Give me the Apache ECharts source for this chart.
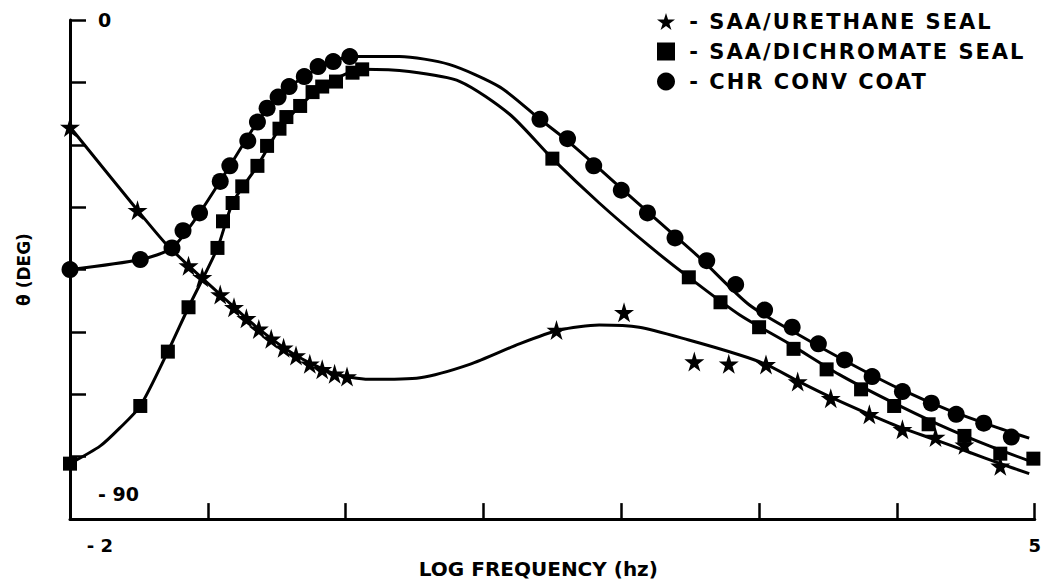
<!DOCTYPE html>
<html>
<head>
<meta charset="utf-8">
<script src="https://cdn.jsdelivr.net/npm/echarts@6/dist/echarts.min.js"></script>
<style>html,body{margin:0;padding:0;background:#fff}#c{width:1044px;height:584px}</style>
</head>
<body>
<div id="c"></div>
<script>
// Series names
const seriesNames = ['SAA/URETHANE SEAL', 'SAA/DICHROMATE SEAL', 'CHR CONV COAT'];
// Axis tick labels
const xTickLabels = {'-2': '- 2', '5': '5'};
const yTickLabels = {'0': '0', '-90': '- 90'};

// Measured points [log f, theta deg]
const urethanePts = [[-2.00,-19.3],[-1.51,-34.3],[-1.14,-44.3],[-1.04,-46.4],[-0.91,-49.5],[-0.81,-51.8],[-0.72,-53.8],[-0.63,-55.7],[-0.54,-57.5],[-0.45,-59.1],[-0.36,-60.5],[-0.26,-62.0],[-0.17,-63.0],[-0.08,-63.8],[0.01,-64.3],[1.53,-55.9],[2.02,-52.7],[2.53,-61.6],[2.78,-62.0],[3.05,-62.1],[3.28,-65.2],[3.52,-68.2],[3.80,-71.1],[4.04,-73.8],[4.28,-75.2],[4.49,-76.6],[4.75,-80.4]];
const dichromatePts = [[-2.00,-80.0],[-1.49,-69.6],[-1.29,-59.8],[-1.14,-51.8],[-0.93,-41.1],[-0.89,-36.3],[-0.82,-33.0],[-0.75,-30.0],[-0.64,-26.3],[-0.57,-22.7],[-0.48,-19.6],[-0.43,-17.5],[-0.33,-15.5],[-0.24,-13.0],[-0.17,-12.0],[-0.07,-11.1],[0.05,-9.5],[0.12,-8.9],[1.50,-25.0],[2.49,-46.4],[2.72,-50.9],[3.00,-55.4],[3.25,-59.3],[3.49,-63.0],[3.74,-66.6],[3.98,-69.6],[4.23,-72.9],[4.49,-75.0],[4.75,-78.2],[4.99,-79.1]];
const chrPts = [[-2.00,-45.0],[-1.49,-43.2],[-1.26,-41.1],[-1.18,-38.0],[-1.06,-34.8],[-0.91,-29.1],[-0.84,-26.3],[-0.71,-21.8],[-0.64,-18.4],[-0.57,-15.9],[-0.49,-13.9],[-0.41,-12.0],[-0.30,-10.2],[-0.20,-8.4],[-0.09,-7.5],[0.03,-6.6],[1.41,-17.9],[1.61,-21.4],[1.80,-26.3],[2.00,-30.7],[2.19,-34.8],[2.39,-39.3],[2.62,-43.4],[2.83,-47.7],[3.04,-52.3],[3.24,-55.4],[3.43,-58.4],[3.62,-61.3],[3.82,-64.3],[4.04,-67.0],[4.25,-69.1],[4.43,-71.1],[4.63,-72.7],[4.83,-75.2]];

// Drawn curves
const urethaneCurve = [[-2.00,-19.3],[-1.51,-34.3],[-1.31,-40.2],[-1.14,-44.3],[-0.91,-49.5],[-0.63,-55.7],[-0.36,-60.5],[-0.08,-63.8],[0.17,-64.8],[0.54,-64.5],[0.90,-62.1],[1.26,-58.4],[1.55,-55.9],[1.84,-55.0],[2.13,-55.4],[2.49,-57.7],[2.86,-60.4],[3.05,-62.1],[3.29,-65.2],[3.52,-68.0],[3.80,-71.1],[4.04,-73.6],[4.28,-75.7],[4.52,-77.9],[4.75,-80.0],[4.96,-81.8]];
const dichromateCurve = [[-2.00,-80.0],[-1.78,-76.8],[-1.64,-73.6],[-1.49,-69.6],[-1.29,-59.8],[-1.14,-51.8],[-0.93,-41.1],[-0.82,-33.0],[-0.64,-26.3],[-0.48,-19.6],[-0.33,-15.5],[-0.17,-12.0],[0.12,-8.9],[0.46,-9.3],[0.83,-11.1],[1.19,-17.0],[1.50,-25.0],[1.84,-33.0],[2.20,-40.7],[2.49,-46.4],[2.86,-53.2],[3.22,-58.4],[3.58,-63.9],[3.94,-68.6],[4.30,-72.9],[4.67,-76.8],[4.96,-79.5]];
const chrCurve = [[-2.00,-45.0],[-1.49,-43.2],[-1.26,-41.1],[-1.06,-34.8],[-0.84,-26.3],[-0.64,-18.4],[-0.49,-13.9],[-0.30,-10.2],[-0.09,-7.5],[0.03,-6.6],[0.39,-6.6],[0.75,-8.0],[1.12,-12.1],[1.41,-17.9],[1.61,-21.8],[1.84,-26.8],[2.20,-34.8],[2.57,-42.9],[2.93,-51.4],[3.29,-56.8],[3.65,-61.8],[4.01,-66.4],[4.38,-70.4],[4.74,-73.6],[4.96,-75.4]];

const starPath = 'path://M50,0 L61,35 L98,35 L68,57 L79,91 L50,70 L21,91 L32,57 L2,35 L39,35 Z';
const FONT = 'DejaVu Sans';

const chart = echarts.init(document.getElementById('c'), null, {renderer: 'svg'});
function near(v, t) { return Math.abs(v - t) < 1e-6; }
const lineStyle = {color: '#000', width: 3};
chart.setOption({
  animation: false,
  backgroundColor: '#fff',
  grid: {left: 70, right: 8, top: 20, bottom: 58, containLabel: false},
  legend: {
    data: seriesNames.map(n => ({name: n, itemStyle: {color: '#000'}})),
    orient: 'vertical',
    left: 652, top: 6,
    itemWidth: 18, itemHeight: 18, itemGap: 9,
    formatter: n => ' - ' + n,
    textStyle: {fontFamily: FONT, fontWeight: 'bold', fontSize: 21, color: '#000'}
  },
  xAxis: {
    type: 'value', min: -2, max: 5, interval: 1,
    name: 'LOG FREQUENCY (hz)', nameLocation: 'middle', nameGap: 38,
    nameTextStyle: {fontFamily: FONT, fontWeight: 'bold', fontSize: 20, color: '#000', padding: [0, 28, 0, 0]},
    axisLine: {onZero: false, lineStyle: {color: '#000', width: 3}},
    axisTick: {inside: true, length: 16, lineStyle: {color: '#000', width: 2.5}},
    splitLine: {show: false},
    axisLabel: {
      margin: 17, color: '#000', fontFamily: FONT, fontWeight: 'bold', fontSize: 18,
      formatter: v => { for (const k in xTickLabels) { if (near(v, +k)) return +k < 0 ? '{l|' + xTickLabels[k] + '}' : xTickLabels[k]; } return ''; },
      rich: {l: {fontFamily: FONT, fontWeight: 'bold', fontSize: 18, color: '#000', padding: [0, 0, 0, 60]}}
    }
  },
  yAxis: {
    type: 'value', min: -90, max: 0, interval: 11.25,
    name: 'θ (DEG)', nameLocation: 'middle', nameGap: 38, nameRotate: 90,
    nameTextStyle: {fontFamily: FONT, fontWeight: 'bold', fontSize: 17, color: '#000'},
    axisLine: {onZero: false, lineStyle: {color: '#000', width: 3}},
    axisTick: {inside: true, length: 16, lineStyle: {color: '#000', width: 2.5}},
    splitLine: {show: false},
    axisLabel: {
      inside: true, margin: 28, color: '#000', fontFamily: FONT, fontWeight: 'bold', fontSize: 19,
      formatter: v => { for (const k in yTickLabels) { if (near(v, +k)) return +k < 0 ? '{b|' + yTickLabels[k] + '}' : yTickLabels[k]; } return ''; },
      rich: {b: {fontFamily: FONT, fontWeight: 'bold', fontSize: 19, color: '#000', padding: [0, 0, 50, 0]}}
    }
  },
  series: [
    {type: 'line', data: urethaneCurve, smooth: 0.25, showSymbol: false, symbol: 'none', lineStyle: lineStyle, silent: true, z: 1},
    {type: 'line', data: dichromateCurve, smooth: 0.25, showSymbol: false, symbol: 'none', lineStyle: lineStyle, silent: true, z: 1},
    {type: 'line', data: chrCurve, smooth: 0.25, showSymbol: false, symbol: 'none', lineStyle: lineStyle, silent: true, z: 1},
    {name: seriesNames[0], type: 'scatter', data: urethanePts, symbol: starPath, symbolSize: 20, itemStyle: {color: '#000', opacity: 1}, z: 3},
    {name: seriesNames[1], type: 'scatter', data: dichromatePts, symbol: 'rect', symbolSize: 14, itemStyle: {color: '#000', opacity: 1}, z: 3},
    {name: seriesNames[2], type: 'scatter', data: chrPts, symbol: 'circle', symbolSize: 17, itemStyle: {color: '#000', opacity: 1}, z: 3}
  ]
});
// widen legend lettering like the original typeset labels
function spaceLegend() {
  document.querySelectorAll('#c text').forEach(t => {
    if (/SEAL|COAT/.test(t.textContent)) t.style.letterSpacing = '2px';
  });
}
spaceLegend();
chart.on('finished', spaceLegend);
</script>
</body>
</html>
